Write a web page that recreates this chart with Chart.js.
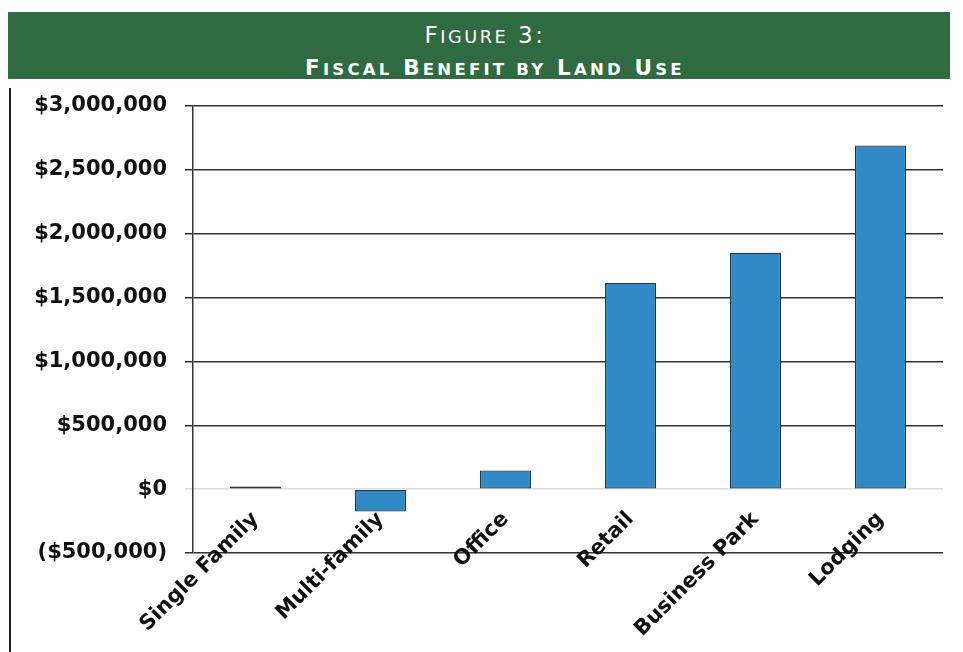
<!DOCTYPE html>
<html>
<head>
<meta charset="utf-8">
<script src="https://cdn.jsdelivr.net/npm/chart.js@4.4.1/dist/chart.umd.min.js"></script>
<style>
    html, body { margin: 0; padding: 0; background: #ffffff; }
    body { width: 963px; height: 652px; position: relative; overflow: hidden; }
    #banner {
        position: absolute; left: 8px; top: 12px; width: 942px; height: 67px;
        background: #2f6a40; color: #ffffff; text-align: center;
        font-family: "DejaVu Sans", sans-serif;
    }
    #banner .line { position: absolute; left: 0; width: 100%; line-height: 24px; box-sizing: border-box; }
    #banner .line1 { top: 11px; font-size: 23px; letter-spacing: 2.5px; padding-left: 12px; }
    #banner .line2 { top: 44px; font-size: 21.5px; font-weight: bold; letter-spacing: 3.2px; padding-left: 32px; }
    #banner .sc { font-size: 0.77em; }
    #frame { position: absolute; left: 9px; top: 88px; width: 2px; height: 564px; background: #222; }
    #wrap { position: absolute; left: 11px; top: 88px; width: 952px; height: 564px; }
</style>
</head>
<body>
<div id="banner">
    <div class="line line1">F<span class="sc">IGURE</span> 3:</div>
    <div class="line line2">F<span class="sc">ISCAL</span> B<span class="sc">ENEFIT BY</span> L<span class="sc">AND</span> U<span class="sc">SE</span></div>
</div>
<div id="frame"></div>
<div id="wrap"><canvas id="chart"></canvas></div>
<script>
// Land use categories and their net fiscal benefit (dollars)
const landUses = ["Single Family", "Multi-family", "Office", "Retail", "Business Park", "Lodging"];
const fiscalBenefit = [20000, -175000, 145000, 1615000, 1850000, 2690000];

// Value axis range and step
const axisMin = -500000;
const axisMax = 3000000;
const axisStep = 500000;

function formatDollars(v) {
    const s = "$" + Math.abs(v).toLocaleString("en-US");
    return v < 0 ? "(" + s + ")" : s;
}

const labelFont = { family: "'DejaVu Sans', Verdana, sans-serif", size: 21, weight: "bold" };

new Chart(document.getElementById("chart"), {
    type: "bar",
    data: {
        labels: landUses,
        datasets: [{
            data: fiscalBenefit,
            backgroundColor: "#2f8ac6",
            borderColor: "#27343f",
            borderWidth: 1.2,
            borderSkipped: false,
            categoryPercentage: 1.0,
            barPercentage: 0.41
        }]
    },
    options: {
        responsive: true,
        maintainAspectRatio: false,
        animation: false,
        layout: { padding: { top: 18, right: 20, left: 0, bottom: 0 } },
        plugins: {
            legend: { display: false },
            tooltip: { enabled: false }
        },
        scales: {
            x: {
                grid: { display: false },
                border: { display: false },
                ticks: {
                    color: "#111",
                    font: labelFont,
                    maxRotation: 45,
                    minRotation: 45,
                    autoSkip: false,
                    padding: -54
                },
                afterFit: function(scale) {
                    scale.height = 99;
                    // labels sit partly above the axis line, so don't clip them to the scale box
                    scale._computeLabelArea = () => undefined;
                }
            },
            y: {
                min: axisMin,
                max: axisMax,
                border: { display: true, color: "#333", width: 1.5 },
                grid: {
                    color: ctx => ctx.tick && ctx.tick.value === 0 ? "#dcdcdc" : "#333333",
                    lineWidth: 1.5,
                    tickLength: 8,
                    drawTicks: true
                },
                ticks: {
                    stepSize: axisStep,
                    color: "#111",
                    font: labelFont,
                    padding: 18,
                    callback: v => formatDollars(v)
                },
                afterFit: function(scale) {
                    scale.width = 182;
                    scale.paddingTop = 0;
                    scale.paddingBottom = 0;
                }
            }
        }
    }
});
</script>
</body>
</html>
